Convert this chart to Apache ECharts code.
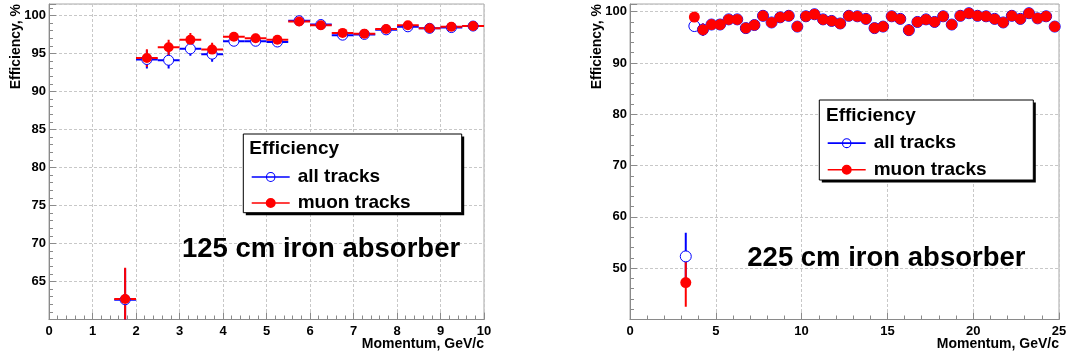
<!DOCTYPE html>
<html><head><meta charset="utf-8">
<script src="https://cdn.jsdelivr.net/npm/echarts@6/dist/echarts.min.js"></script>
<style>html,body{margin:0;padding:0;background:#fff}#c{width:1067px;height:356px}</style>
</head><body><div id="c"></div>
<script>
// ---------- data: 125 cm iron absorber ----------
const leftP = [1.75, 2.25, 2.75, 3.25, 3.75, 4.25, 4.75, 5.25, 5.75, 6.25, 6.75, 7.25, 7.75, 8.25, 8.75, 9.25, 9.75];
const leftAll = [62.6, 94.2, 94.1, 95.6, 94.9, 96.6, 96.6, 96.5, 99.3, 98.8, 97.4, 97.5, 98.1, 98.5, 98.3, 98.4, 98.6];
const leftAllErr = [4.1, 1.2, 1.1, 0.9, 1.0, 0.6, 0.6, 0.6, 0.4, 0.4, 0.4, 0.4, 0.4, 0.3, 0.3, 0.3, 0.3];
const leftMuon = [62.7, 94.4, 95.8, 96.8, 95.5, 97.2, 97.0, 96.8, 99.2, 98.7, 97.7, 97.6, 98.2, 98.7, 98.3, 98.5, 98.6];
const leftMuonErr = [4.1, 1.15, 1.0, 0.9, 0.9, 0.6, 0.6, 0.6, 0.4, 0.4, 0.4, 0.4, 0.4, 0.3, 0.3, 0.3, 0.3];

// ---------- data: 225 cm iron absorber ----------
const rightP = [3.25, 3.75, 4.25, 4.75, 5.25, 5.75, 6.25, 6.75, 7.25, 7.75, 8.25, 8.75, 9.25, 9.75, 10.25, 10.75, 11.25, 11.75, 12.25, 12.75, 13.25, 13.75, 14.25, 14.75, 15.25, 15.75, 16.25, 16.75, 17.25, 17.75, 18.25, 18.75, 19.25, 19.75, 20.25, 20.75, 21.25, 21.75, 22.25, 22.75, 23.25, 23.75, 24.25, 24.75];
const rightMuon = [47.2, 98.95, 96.5, 97.5, 97.5, 98.5, 98.5, 96.8, 97.4, 99.2, 97.9, 98.9, 99.2, 97.1, 99.1, 99.5, 98.5, 98.2, 97.7, 99.2, 99.1, 98.6, 96.8, 97.1, 99.1, 98.6, 96.4, 98.0, 98.5, 98.0, 99.1, 97.5, 99.2, 99.7, 99.2, 99.1, 98.6, 97.9, 99.2, 98.6, 99.7, 98.7, 99.1, 97.1];
const rightMuonErr = [4.7, 0.7, 1.2, 0.7, 0.7, 0.6, 0.6, 0.7, 0.7, 0.5, 0.6, 0.5, 0.5, 0.7, 0.5, 0.4, 0.6, 0.6, 0.7, 0.5, 0.5, 0.6, 0.8, 0.7, 0.5, 0.6, 1.1, 0.6, 0.6, 0.6, 0.5, 0.7, 0.5, 0.3, 0.5, 0.5, 0.6, 0.6, 0.5, 0.6, 0.3, 0.6, 0.5, 0.7];
const rightAll = [52.3, 97.2, 96.5, 97.5, 97.5, 98.5, 98.5, 96.8, 97.4, 99.2, 97.9, 98.9, 99.2, 97.1, 99.1, 99.5, 98.5, 98.2, 97.7, 99.2, 99.1, 98.6, 96.8, 97.1, 99.1, 98.6, 96.4, 98.0, 98.5, 98.0, 99.1, 97.5, 99.2, 99.7, 99.2, 99.1, 98.6, 97.9, 99.2, 98.6, 99.7, 98.7, 99.1, 97.1];
const rightAllErr = [4.6, 0.9, 1.2, 0.7, 0.7, 0.6, 0.6, 0.7, 0.7, 0.5, 0.6, 0.5, 0.5, 0.7, 0.5, 0.4, 0.6, 0.6, 0.7, 0.5, 0.5, 0.6, 0.8, 0.7, 0.5, 0.6, 1.1, 0.6, 0.6, 0.6, 0.5, 0.7, 0.5, 0.3, 0.5, 0.5, 0.6, 0.6, 0.5, 0.6, 0.3, 0.6, 0.5, 0.7];

const binHalfWidth = 0.25;
const seriesNames = ['all tracks', 'muon tracks'];
const panelLabels = ['125 cm iron absorber', '225 cm iron absorber'];
const xTitle = 'Momentum, GeV/c';
const yTitle = 'Efficiency, %';
const legendTitle = 'Efficiency';

const BLUE = '#0000ff', RED = '#ff0000';
const FONT = '"Liberation Sans", Arial, Helvetica, sans-serif';

function rows(xs, ys, es) { return xs.map((x, i) => [x, ys[i], es[i]]); }

function errRender(color) {
  return function (params, api) {
    const x = api.value(0), y = api.value(1), e = api.value(2);
    const c = api.coord([x, y]);
    const l = api.coord([x - binHalfWidth, y]);
    const r = api.coord([x + binHalfWidth, y]);
    const t = api.coord([x, y + e]);
    const b = api.coord([x, y - e]);
    return {
      type: 'group',
      children: [
        { type: 'line', shape: { x1: l[0], y1: c[1], x2: r[0], y2: c[1] }, style: { stroke: color, lineWidth: 2 } },
        { type: 'line', shape: { x1: c[0], y1: t[1], x2: c[0], y2: b[1] }, style: { stroke: color, lineWidth: 2 } }
      ]
    };
  };
}

function errSeries(name, idx, data, color) {
  return { type: 'custom', name: name, xAxisIndex: idx, yAxisIndex: idx, data: data, clip: true,
    encode: { x: 0, y: 1 }, renderItem: errRender(color), silent: true, z: 2 };
}
function markSeries(name, idx, data, open, size) {
  return { type: 'scatter', name: name, xAxisIndex: idx, yAxisIndex: idx, data: data, symbol: 'circle', symbolSize: size,
    clip: true, z: 3,
    itemStyle: open ? { color: '#ffffff', borderColor: BLUE, borderWidth: 1, opacity: 1 } : { color: RED, borderWidth: 0, opacity: 1 } };
}

const axisGray = '#8a8a8a';
function xAxisDef(idx, max, interval) {
  return {
    type: 'value', gridIndex: idx, min: 0, max: max, interval: interval,
    axisLine: { show: true, lineStyle: { color: axisGray, width: 1 } },
    axisTick: { show: true, inside: true, length: 7, lineStyle: { color: axisGray } },
    minorTick: { show: true, splitNumber: 5, length: 4, lineStyle: { color: axisGray } },
    axisLabel: { fontSize: 13, fontWeight: 'bold', color: '#000', fontFamily: FONT, margin: 5 },
    splitLine: { show: true, lineStyle: { color: '#c8c8c8', type: [3, 2], width: 1 } }
  };
}
function yAxisDef(idx, min, interval) {
  return {
    type: 'value', gridIndex: idx, min: min, max: 101.5, interval: interval,
    axisLine: { show: true, lineStyle: { color: axisGray, width: 1 } },
    axisTick: { show: true, inside: true, length: 7, lineStyle: { color: axisGray } },
    minorTick: { show: true, splitNumber: 5, length: 4, lineStyle: { color: axisGray } },
    axisLabel: { fontSize: 13, fontWeight: 'bold', color: '#000', fontFamily: FONT, margin: 3, showMinLabel: false, showMaxLabel: false },
    splitLine: { show: true, lineStyle: { color: '#c8c8c8', type: [3, 2], width: 1 } }
  };
}

const ringIcon = 'path://M0,4.25 L36,4.25 L36,5.75 L0,5.75 Z M13.5,5 A4.5,4.5 0 1 1 22.5,5 A4.5,4.5 0 1 1 13.5,5 Z M14.5,5 A3.5,3.5 0 1 0 21.5,5 A3.5,3.5 0 1 0 14.5,5 Z';
const dotIcon = 'path://M0,4.25 L36,4.25 L36,5.75 L0,5.75 Z M13.25,5 A4.75,4.75 0 1 1 22.75,5 A4.75,4.75 0 1 1 13.25,5 Z';

function legendDef(left, top, gap) {
  return {
    orient: 'vertical', left: left, top: top, itemWidth: 38, itemHeight: 10, itemGap: gap, z: 20, padding: 0,
    selectedMode: false, symbolKeepAspect: false,
    textStyle: { fontSize: 19, fontWeight: 'bold', color: '#000', fontFamily: FONT, padding: [0, 0, 0, 3] },
    data: [
      { name: seriesNames[0], icon: ringIcon, itemStyle: { color: BLUE, borderWidth: 0 } },
      { name: seriesNames[1], icon: dotIcon, itemStyle: { color: RED, borderWidth: 0 } }
    ]
  };
}

function legendBox(x, y, w, h, tx, ty) {
  return [
    { type: 'rect', z: 10, shape: { x: x + 2.5, y: y + 2.5, width: w, height: h }, style: { fill: '#000' } },
    { type: 'rect', z: 11, shape: { x: x, y: y, width: w, height: h }, style: { fill: '#fff', stroke: '#000', lineWidth: 1 } },
    { type: 'text', z: 12, x: tx, y: ty, style: { text: legendTitle, fontSize: 19, fontWeight: 'bold', fontFamily: FONT, fill: '#000', textVerticalAlign: 'middle' } }
  ];
}
function axisTitles(yx, xRight) {
  return [
    { type: 'text', z: 12, x: yx, y: 4, rotation: Math.PI / 2, style: { text: yTitle, fontSize: 14, fontWeight: 'bold', fontFamily: FONT, fill: '#000', align: 'right', verticalAlign: 'middle' } },
    { type: 'text', z: 12, x: xRight, y: 344, style: { text: xTitle, fontSize: 14, fontWeight: 'bold', fontFamily: FONT, fill: '#000', align: 'right', verticalAlign: 'middle' } }
  ];
}

const chart = echarts.init(document.getElementById('c'), null, { renderer: 'canvas' });
chart.setOption({
  animation: false,
  backgroundColor: '#ffffff',
  grid: [
    { left: 49, top: 4, width: 435, height: 315.5, show: true, borderColor: '#a8a8a8', borderWidth: 1, backgroundColor: 'transparent', containLabel: false, outerBoundsMode: 'none' },
    { left: 630, top: 4, width: 429, height: 315.5, show: true, borderColor: '#a8a8a8', borderWidth: 1, backgroundColor: 'transparent', containLabel: false, outerBoundsMode: 'none' }
  ],
  xAxis: [xAxisDef(0, 10, 1), xAxisDef(1, 25, 5)],
  yAxis: [yAxisDef(0, 60, 5), yAxisDef(1, 40, 10)],
  legend: [legendDef(251.7, 167.5, 7), legendDef(827.7, 133.7, 7.6)],
  series: [
    errSeries('all tracks err', 0, rows(leftP, leftAll, leftAllErr), BLUE),
    markSeries(seriesNames[0], 0, rows(leftP, leftAll, leftAllErr), true, 10),
    errSeries('muon tracks err', 0, rows(leftP, leftMuon, leftMuonErr), RED),
    markSeries(seriesNames[1], 0, rows(leftP, leftMuon, leftMuonErr), false, 10),
    errSeries('all tracks err', 1, rows(rightP, rightAll, rightAllErr), BLUE),
    markSeries(seriesNames[0], 1, rows(rightP, rightAll, rightAllErr), true, 11),
    errSeries('muon tracks err', 1, rows(rightP, rightMuon, rightMuonErr), RED),
    markSeries(seriesNames[1], 1, rows(rightP, rightMuon, rightMuonErr), false, 11)
  ],
  graphic: [
    ...legendBox(243.3, 134, 218.4, 78.7, 249.3, 149),
    ...legendBox(819.3, 100, 214, 80, 826, 115.5),
    ...axisTitles(16, 484),
    ...axisTitles(597, 1059),
    { type: 'text', z: 12, x: 182, y: 249, style: { text: panelLabels[0], fontSize: 27.5, fontWeight: 'bold', fontFamily: FONT, fill: '#000', textVerticalAlign: 'middle' } },
    { type: 'text', z: 12, x: 747.3, y: 258.5, style: { text: panelLabels[1], fontSize: 27.5, fontWeight: 'bold', fontFamily: FONT, fill: '#000', textVerticalAlign: 'middle' } }
  ]
});
</script></body></html>
